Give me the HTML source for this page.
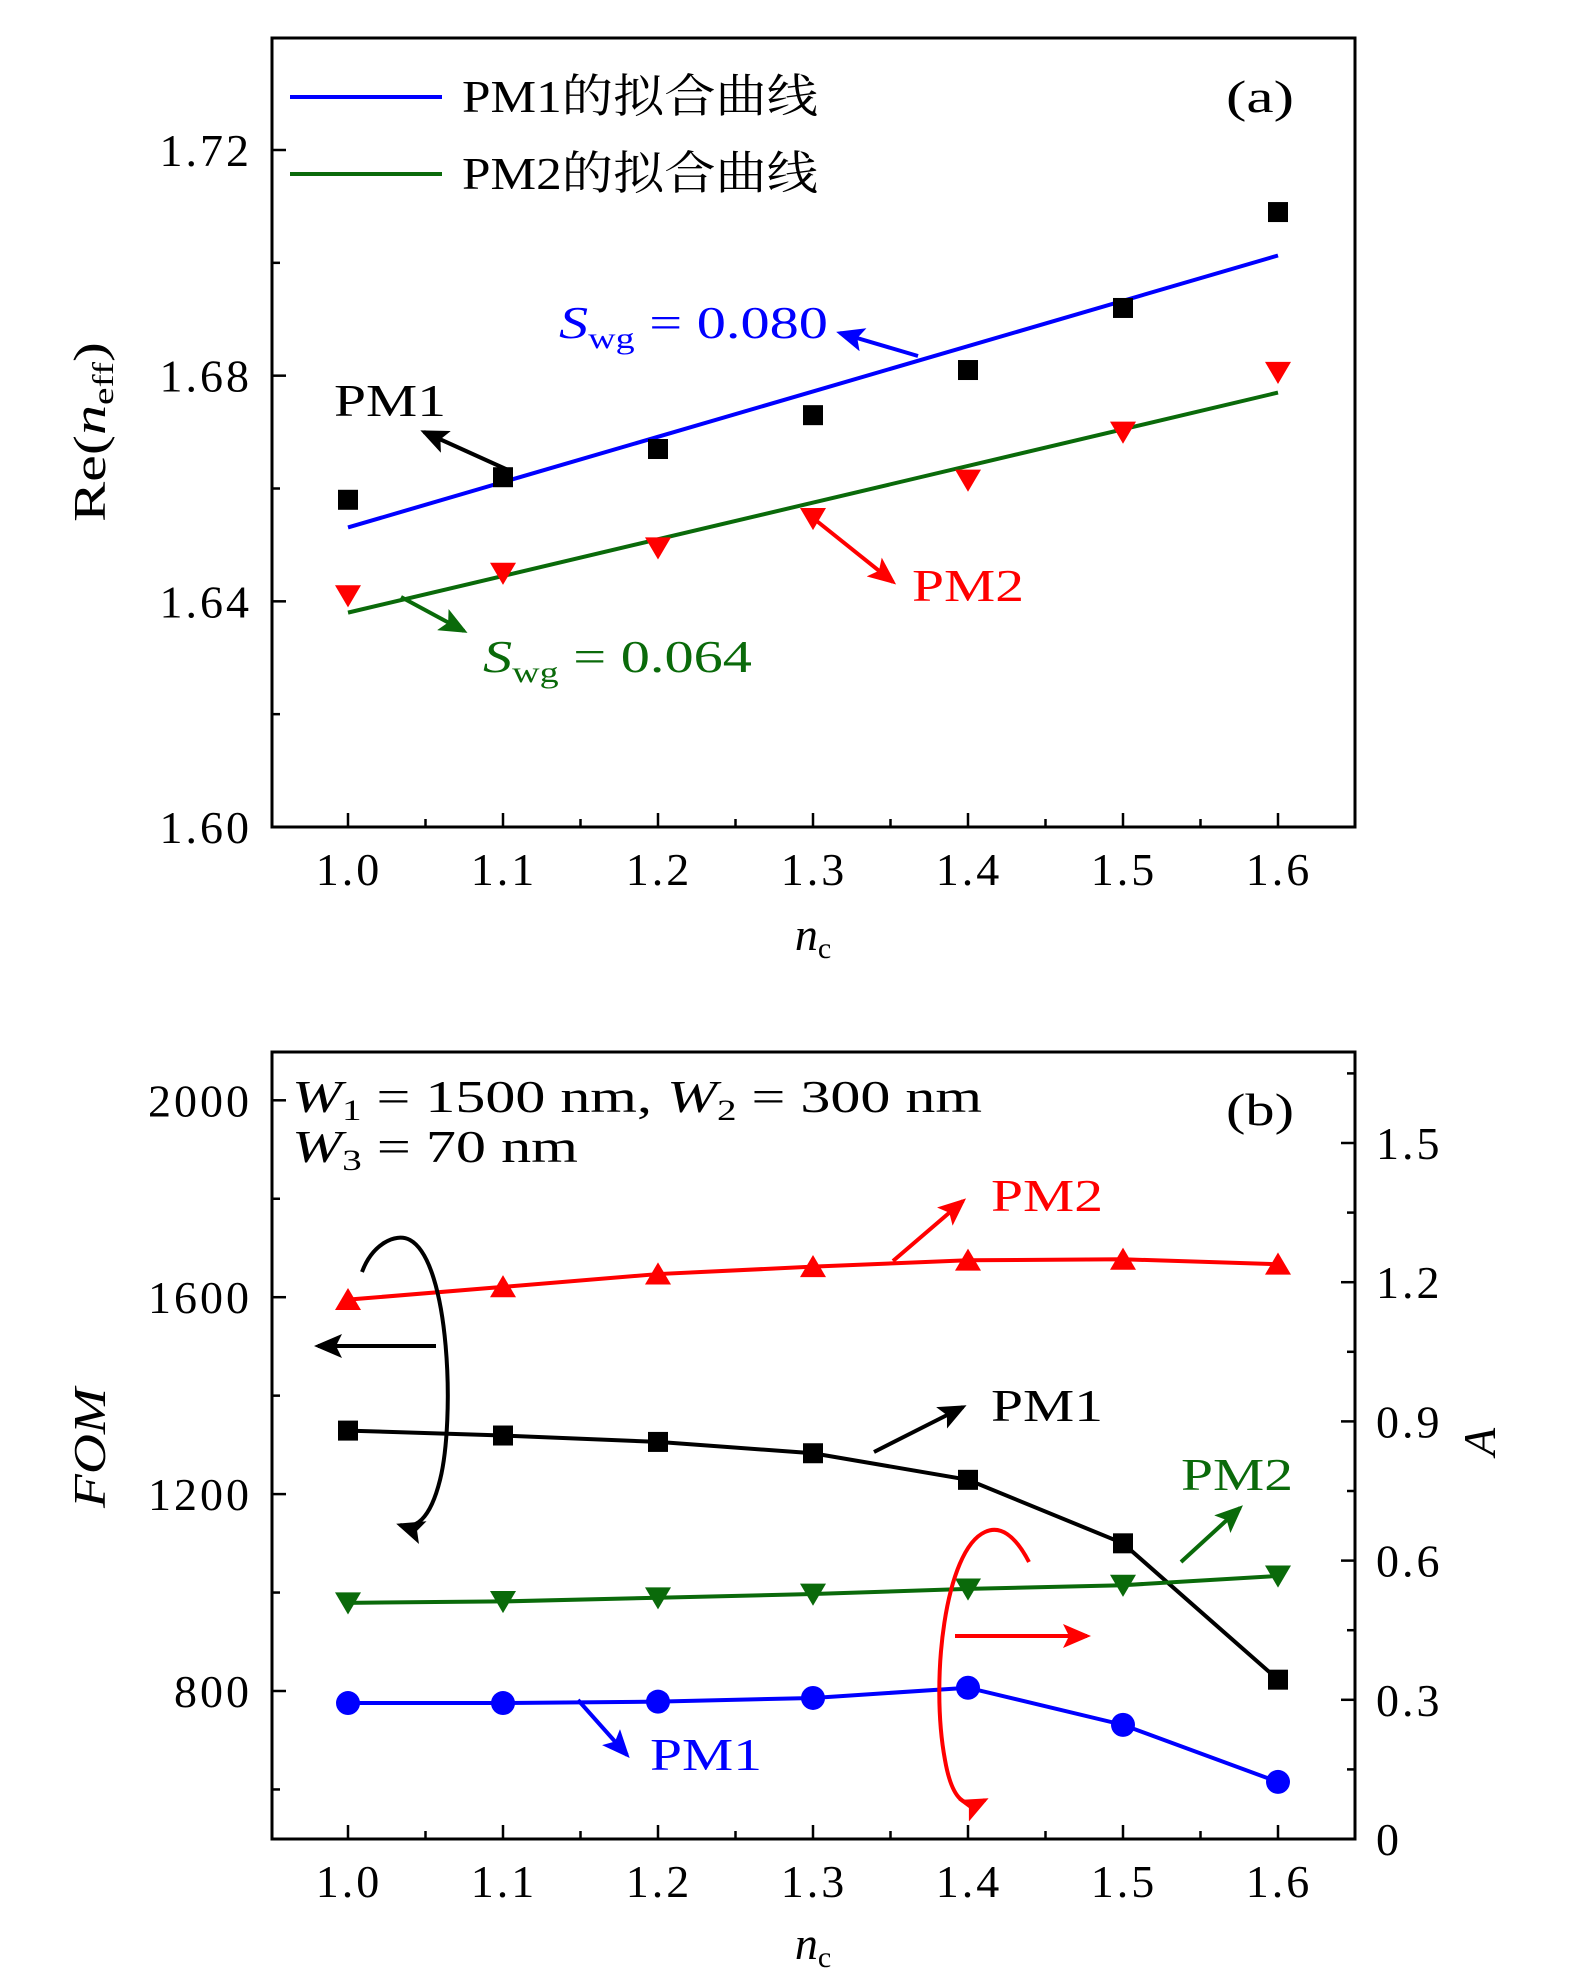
<!DOCTYPE html>
<html><head><meta charset="utf-8"><style>
html,body{margin:0;padding:0;background:#fff}
svg{display:block}
text{font-family:"Liberation Serif","Noto Serif CJK SC",serif}
</style></head><body>
<svg width="1575" height="1988" viewBox="0 0 1575 1988" xmlns="http://www.w3.org/2000/svg">
<defs>
<marker id="ah-k" markerWidth="7" markerHeight="6" refX="6" refY="3" orient="auto" markerUnits="strokeWidth"><path d="M0,0L7,3L0,6L1.5,3z" fill="#000"/></marker>
<marker id="ah-b" markerWidth="7" markerHeight="6" refX="6" refY="3" orient="auto" markerUnits="strokeWidth"><path d="M0,0L7,3L0,6L1.5,3z" fill="#0000ff"/></marker>
<marker id="ah-r" markerWidth="7" markerHeight="6" refX="6" refY="3" orient="auto" markerUnits="strokeWidth"><path d="M0,0L7,3L0,6L1.5,3z" fill="#ff0000"/></marker>
<marker id="ah-g" markerWidth="7" markerHeight="6" refX="6" refY="3" orient="auto" markerUnits="strokeWidth"><path d="M0,0L7,3L0,6L1.5,3z" fill="#0a6a0a"/></marker>
</defs>
<g id="pa"></g>
<g id="pb"></g>

<g font-size="46">
<line x1="290" y1="97" x2="442" y2="97" stroke="#0000ff" stroke-width="4"/>
<text x="462" y="112" textLength="356" lengthAdjust="spacingAndGlyphs">PM1的拟合曲线</text>
<line x1="290" y1="174" x2="442" y2="174" stroke="#0a6a0a" stroke-width="4"/>
<text x="462" y="189" textLength="356" lengthAdjust="spacingAndGlyphs">PM2的拟合曲线</text>
<text x="1226" y="112" textLength="68" lengthAdjust="spacingAndGlyphs">(a)</text>
<text x="559" y="338" fill="#0000ff" textLength="269" lengthAdjust="spacingAndGlyphs"><tspan font-style="italic">S</tspan><tspan font-size="30" dy="10">wg</tspan><tspan dy="-10"> = 0.080</tspan></text>
<line x1="918" y1="356" x2="840" y2="333" stroke="#0000ff" stroke-width="4" marker-end="url(#ah-b)"/>
<text x="334" y="416" textLength="112" lengthAdjust="spacingAndGlyphs">PM1</text>
<line x1="508" y1="470" x2="424" y2="432" stroke="#000" stroke-width="4" marker-end="url(#ah-k)"/>
<text x="912" y="601" fill="#ff0000" textLength="112" lengthAdjust="spacingAndGlyphs">PM2</text>
<line x1="813" y1="518" x2="893" y2="582" stroke="#ff0000" stroke-width="4" marker-end="url(#ah-r)"/>
<text x="483" y="672" fill="#0a6a0a" textLength="269" lengthAdjust="spacingAndGlyphs"><tspan font-style="italic">S</tspan><tspan font-size="30" dy="10">wg</tspan><tspan dy="-10"> = 0.064</tspan></text>
<line x1="401" y1="597" x2="464" y2="631" stroke="#0a6a0a" stroke-width="4" marker-end="url(#ah-g)"/>
<text transform="translate(105,432) rotate(-90)" text-anchor="middle" textLength="180" lengthAdjust="spacingAndGlyphs">Re(<tspan font-style="italic">n</tspan><tspan font-size="30" dy="8">eff</tspan><tspan dy="-8">)</tspan></text>
<text x="813" y="950" text-anchor="middle"><tspan font-style="italic">n</tspan><tspan font-size="30" dy="8">c</tspan></text>
</g>

<g font-size="46">
<text x="292" y="1112" textLength="690" lengthAdjust="spacingAndGlyphs"><tspan font-style="italic">W</tspan><tspan font-size="30" dy="8">1</tspan><tspan dy="-8"> = 1500 nm, </tspan><tspan font-style="italic">W</tspan><tspan font-size="30" dy="8">2</tspan><tspan dy="-8"> = 300 nm</tspan></text>
<text x="292" y="1162" textLength="286" lengthAdjust="spacingAndGlyphs"><tspan font-style="italic">W</tspan><tspan font-size="30" dy="8">3</tspan><tspan dy="-8"> = 70 nm</tspan></text>
<text x="1226" y="1125" textLength="68" lengthAdjust="spacingAndGlyphs">(b)</text>
<text x="991" y="1211" fill="#ff0000" textLength="112" lengthAdjust="spacingAndGlyphs">PM2</text>
<line x1="893" y1="1261" x2="963" y2="1201" stroke="#ff0000" stroke-width="4" marker-end="url(#ah-r)"/>
<text x="991" y="1421" textLength="112" lengthAdjust="spacingAndGlyphs">PM1</text>
<line x1="874" y1="1452" x2="963" y2="1407" stroke="#000" stroke-width="4" marker-end="url(#ah-k)"/>
<text x="1181" y="1490" fill="#0a6a0a" textLength="112" lengthAdjust="spacingAndGlyphs">PM2</text>
<line x1="1181" y1="1562" x2="1240" y2="1508" stroke="#0a6a0a" stroke-width="4" marker-end="url(#ah-g)"/>
<text x="650" y="1770" fill="#0000ff" textLength="112" lengthAdjust="spacingAndGlyphs">PM1</text>
<line x1="578" y1="1700" x2="627" y2="1755" stroke="#0000ff" stroke-width="4" marker-end="url(#ah-b)"/>
<path d="M362,1272 C372,1245 395,1232 410,1240 C450,1262 455,1420 440,1480 C430,1520 415,1530 400,1525" fill="none" stroke="#000" stroke-width="4" marker-end="url(#ah-k)"/>
<line x1="436" y1="1346" x2="318" y2="1346" stroke="#000" stroke-width="4" marker-end="url(#ah-k)"/>
<path d="M1029,1562 C1015,1535 1000,1525 985,1532 C945,1550 930,1680 945,1760 C952,1800 965,1810 985,1800" fill="none" stroke="#ff0000" stroke-width="4" marker-end="url(#ah-r)"/>
<line x1="955" y1="1636" x2="1087" y2="1636" stroke="#ff0000" stroke-width="4" marker-end="url(#ah-r)"/>
<text transform="translate(105,1448) rotate(-90)" text-anchor="middle" font-style="italic" textLength="120" lengthAdjust="spacingAndGlyphs">FOM</text>
<text transform="translate(1495,1442) rotate(-90)" text-anchor="middle" font-style="italic">A</text>
<text x="813" y="1959" text-anchor="middle"><tspan font-style="italic">n</tspan><tspan font-size="30" dy="8">c</tspan></text>
</g>
</svg>
<script>
const xCats = [1.0, 1.1, 1.2, 1.3, 1.4, 1.5, 1.6];
const xTickLabels = ["1.0","1.1","1.2","1.3","1.4","1.5","1.6"];
const aPM1 = [1.658, 1.662, 1.667, 1.673, 1.681, 1.692, 1.709];
const aPM2 = [1.641, 1.645, 1.6495, 1.6547, 1.6615, 1.670, 1.6806];
const aFit1 = [1.6531, 1.7013];
const aFit2 = [1.638, 1.677];
const aYTicks = [1.60, 1.64, 1.68, 1.72];
const aYTickLabels = ["1.60","1.64","1.68","1.72"];
const aYMinor = [1.62, 1.66, 1.70];
const fomPM2 = [1595, 1621, 1647, 1662, 1675, 1677, 1667];
const fomPM1 = [1329, 1319, 1306, 1283, 1229, 1100, 823];
const aPM2b = [0.509, 0.512, 0.520, 0.528, 0.539, 0.547, 0.567];
const aPM1b = [0.293, 0.293, 0.296, 0.304, 0.326, 0.246, 0.123];
const fomTicks = [800, 1200, 1600, 2000];
const fomTickLabels = ["800","1200","1600","2000"];
const fomMinor = [600, 1000, 1400, 1800];
const aTicks = [0, 0.3, 0.6, 0.9, 1.2, 1.5];
const aTickLabels = ["0","0.3","0.6","0.9","1.2","1.5"];
const aMinor = [0.15, 0.45, 0.75, 1.05, 1.35, 1.65];

const NS = "http://www.w3.org/2000/svg";
function mk(parent, tag, attrs){const e=document.createElementNS(NS,tag);for(const k in attrs)e.setAttribute(k,attrs[k]);parent.appendChild(e);return e;}
const L=272,R=1355;
const xs = v => 348 + (v-1.0)/0.6*(1278-348);
const yA = v => 827 - (v-1.60)/0.12*(827-150);
const yFom = v => 1691 - (v-800)/400*196.9;
const yAr = v => 1839 - v/0.3*139.2;
const pa=document.getElementById('pa'), pb=document.getElementById('pb');
const TS = {'font-size':46,'letter-spacing':3};

function frame(g, top, bot, name){
  const r=mk(g,'rect',{x:L,y:top,width:R-L,height:bot-top,fill:'none',stroke:'#000','stroke-width':3});
  
  
  xCats.forEach((v,i)=>{
    const t=mk(g,'line',{x1:xs(v),x2:xs(v),y1:bot,y2:bot-14,stroke:'#000','stroke-width':2.5});
    
    
    if(i<xCats.length-1){const m=mk(g,'line',{x1:xs(v+0.05),x2:xs(v+0.05),y1:bot,y2:bot-8,stroke:'#000','stroke-width':2.5});
      
      }
    const tx=mk(g,'text',Object.assign({x:xs(v)+1,y:bot+58,'text-anchor':'middle'},TS));
    tx.textContent=xTickLabels[i];
    
    
  });
}
frame(pa,38,827,'plot-frame-a');
aYTicks.forEach((v,i)=>{
  const t=mk(pa,'line',{x1:L,x2:L+14,y1:yA(v),y2:yA(v),stroke:'#000','stroke-width':2.5});
  
  
  const tx=mk(pa,'text',Object.assign({x:252,y:yA(v)+16,'text-anchor':'end'},TS));
  tx.textContent=aYTickLabels[i];
  
  
});
aYMinor.forEach(v=>{const t=mk(pa,'line',{x1:L,x2:L+8,y1:yA(v),y2:yA(v),stroke:'#000','stroke-width':2.5});
  
  });
const f1=mk(pa,'line',{x1:xs(1.0),y1:yA(aFit1[0]),x2:xs(1.6),y2:yA(aFit1[1]),stroke:'#0000ff','stroke-width':4});


const f2=mk(pa,'line',{x1:xs(1.0),y1:yA(aFit2[0]),x2:xs(1.6),y2:yA(aFit2[1]),stroke:'#0a6a0a','stroke-width':4});


function square(g,x,y,fill,name){const e=mk(g,'rect',{x:x-10,y:y-10,width:20,height:20,fill:fill});
  
  }
function tri(g,x,y,fill,down,name){const s=13;const p=down?`${x-s},${y-s*0.8} ${x+s},${y-s*0.8} ${x},${y+s*0.9}`:`${x-s},${y+s*0.8} ${x+s},${y+s*0.8} ${x},${y-s*0.9}`;
  const e=mk(g,'polygon',{points:p,fill:fill});
  
  }
xCats.forEach((v,i)=>{square(pa,xs(v),yA(aPM1[i]),'#000','pm1-point-a');});
xCats.forEach((v,i)=>{tri(pa,xs(v),yA(aPM2[i]),'#ff0000',true,'pm2-point-a');});

frame(pb,1052,1839,'plot-frame-b');
fomTicks.forEach((v,i)=>{
  const t=mk(pb,'line',{x1:L,x2:L+14,y1:yFom(v),y2:yFom(v),stroke:'#000','stroke-width':2.5});
  
  
  const tx=mk(pb,'text',Object.assign({x:252,y:yFom(v)+16,'text-anchor':'end'},TS));
  tx.textContent=fomTickLabels[i];
  
  
});
fomMinor.forEach(v=>{const t=mk(pb,'line',{x1:L,x2:L+8,y1:yFom(v),y2:yFom(v),stroke:'#000','stroke-width':2.5});
  
  });
aTicks.forEach((v,i)=>{
  const t=mk(pb,'line',{x1:R,x2:R-14,y1:yAr(v),y2:yAr(v),stroke:'#000','stroke-width':2.5});
  
  
  const tx=mk(pb,'text',Object.assign({x:1376,y:yAr(v)+16},TS));
  tx.textContent=aTickLabels[i];
  
  
});
aMinor.forEach(v=>{const t=mk(pb,'line',{x1:R,x2:R-8,y1:yAr(v),y2:yAr(v),stroke:'#000','stroke-width':2.5});
  
  });
function series(vals,yf,color,name){
  const pts=xCats.map((v,i)=>xs(v)+','+yf(vals[i])).join(' ');
  const pl=mk(pb,'polyline',{points:pts,fill:'none',stroke:color,'stroke-width':4});
  
  
}
series(fomPM2,yFom,'#ff0000','pm2-fom-line');
series(fomPM1,yFom,'#000','pm1-fom-line');
series(aPM2b,yAr,'#0a6a0a','pm2-a-line');
series(aPM1b,yAr,'#0000ff','pm1-a-line');
xCats.forEach((v,i)=>{tri(pb,xs(v),yFom(fomPM2[i]),'#ff0000',false,'pm2-fom-point');});
xCats.forEach((v,i)=>{square(pb,xs(v),yFom(fomPM1[i]),'#000','pm1-fom-point');});
xCats.forEach((v,i)=>{tri(pb,xs(v),yAr(aPM2b[i]),'#0a6a0a',true,'pm2-a-point');});
xCats.forEach((v,i)=>{const c=mk(pb,'circle',{cx:xs(v),cy:yAr(aPM1b[i]),r:12,fill:'#0000ff'});
  
  });
</script>
</body></html>
